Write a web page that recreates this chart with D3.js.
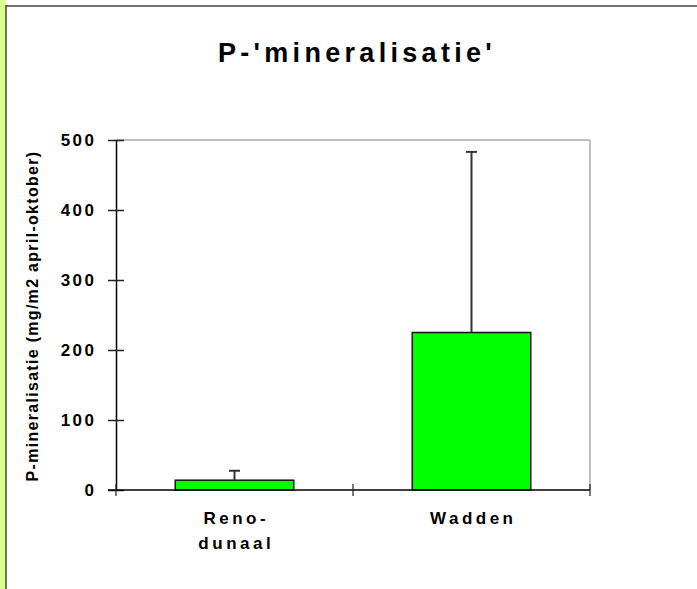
<!DOCTYPE html>
<html><head><meta charset="utf-8">
<script src="https://cdn.jsdelivr.net/npm/d3@7"></script>
<style>body{margin:0;background:#fff}svg{display:block}text{font-family:Arial,"Liberation Sans",sans-serif;font-weight:bold;fill:#000}</style>
</head><body>
<svg id="c" width="697" height="589"></svg>
<script>
const categories = [["Reno-","dunaal"], ["Wadden"]];
const values = [14, 225];
const errors = [13.5, 258];
const yTicks = [0, 100, 200, 300, 400, 500];
const title = "P-'mineralisatie'";
const yTitle = "P-mineralisatie (mg/m2 april-oktober)";

const svg = d3.select("#c");
const W = 697, H = 589;
const m = {left:116, right:590, top:140, bottom:490};

// page frame
svg.append("rect").attr("x",0).attr("y",0).attr("width",6).attr("height",H).attr("fill","#dcff8a");
svg.append("line").attr("x1",6).attr("x2",6).attr("y1",5).attr("y2",H).attr("stroke","#444").attr("stroke-width",1.5);
svg.append("line").attr("x1",6).attr("x2",W).attr("y1",6).attr("y2",6).attr("stroke","#444").attr("stroke-width",1.5);

const x = d3.scaleBand().domain(d3.range(categories.length)).range([m.left, m.right]).paddingInner(0.5).paddingOuter(0.25);
const y = d3.scaleLinear().domain([0,500]).range([m.bottom, m.top]);

// plot frame (top, right)
svg.append("line").attr("x1",m.left).attr("x2",m.right).attr("y1",y(500)).attr("y2",y(500)).attr("stroke","#aaa").attr("stroke-width",1.5);
svg.append("line").attr("x1",m.right).attr("x2",m.right).attr("y1",y(500)).attr("y2",m.bottom).attr("stroke","#aaa").attr("stroke-width",1.5);

// bars
svg.selectAll("rect.bar").data(values).join("rect").attr("class","bar")
  .attr("x",(d,i)=>x(i)).attr("width",x.bandwidth())
  .attr("y",d=>y(d)).attr("height",d=>y(0)-y(d))
  .attr("fill","#00ff00").attr("stroke","#111").attr("stroke-width",1.5);

// error bars
const eg = svg.selectAll("g.err").data(values).join("g").attr("class","err");
eg.append("line").attr("x1",(d,i)=>x(i)+x.bandwidth()/2).attr("x2",(d,i)=>x(i)+x.bandwidth()/2)
  .attr("y1",d=>y(d)).attr("y2",(d,i)=>y(d+errors[i])).attr("stroke","#333").attr("stroke-width",2);
eg.append("line").attr("x1",(d,i)=>x(i)+x.bandwidth()/2-5.5).attr("x2",(d,i)=>x(i)+x.bandwidth()/2+5.5)
  .attr("y1",(d,i)=>y(d+errors[i])).attr("y2",(d,i)=>y(d+errors[i])).attr("stroke","#333").attr("stroke-width",2);

// y axis
const ya = svg.append("g").attr("transform",`translate(${m.left},0)`)
  .call(d3.axisLeft(y).tickValues(yTicks).tickSize(8).tickPadding(14).tickSizeOuter(0));
ya.select(".domain").attr("stroke","#000").attr("stroke-width",1.5);
ya.selectAll(".tick line").attr("x2",8).attr("x1",-8).attr("stroke","#222").attr("stroke-width",1.5);
ya.selectAll(".tick text").attr("font-size",17).style("letter-spacing","2.5px").attr("dx",2.5).attr("dy","0.35em")
  .style("font-family","Arial,'Liberation Sans',sans-serif").style("font-weight","bold").attr("fill","#000");

// x axis
const xEdges = d3.scaleLinear().domain([0, categories.length]).range([m.left, m.right]);
svg.append("line").attr("x1",m.left-8).attr("x2",m.right).attr("y1",m.bottom).attr("y2",m.bottom).attr("stroke","#000").attr("stroke-width",1.5);
svg.selectAll("line.xt").data(d3.range(categories.length+1)).join("line").attr("class","xt")
  .attr("x1",d=>xEdges(d)).attr("x2",d=>xEdges(d)).attr("y1",m.bottom-6).attr("y2",m.bottom+6)
  .attr("stroke","#222").attr("stroke-width",1.2);

const xl = svg.selectAll("text.xl").data(categories).join("text").attr("class","xl")
  .attr("text-anchor","middle").attr("font-size",17).style("letter-spacing","3.5px")
  .attr("transform",(d,i)=>`translate(${x(i)+x.bandwidth()/2+1.75},524)`);
xl.selectAll("tspan").data(d=>d).join("tspan").attr("x",0).attr("y",(d,j)=>j*25).text(d=>d);

// title
svg.append("text").attr("x",357).attr("y",62).attr("text-anchor","middle").attr("font-size",27)
  .style("letter-spacing","4.3px").text(title);

// y title
svg.append("text").attr("transform",`translate(38,${(m.top+m.bottom)/2+1}) rotate(-90)`)
  .attr("text-anchor","middle").attr("font-size",16).style("letter-spacing","1.3px").text(yTitle);
</script>
</body></html>
